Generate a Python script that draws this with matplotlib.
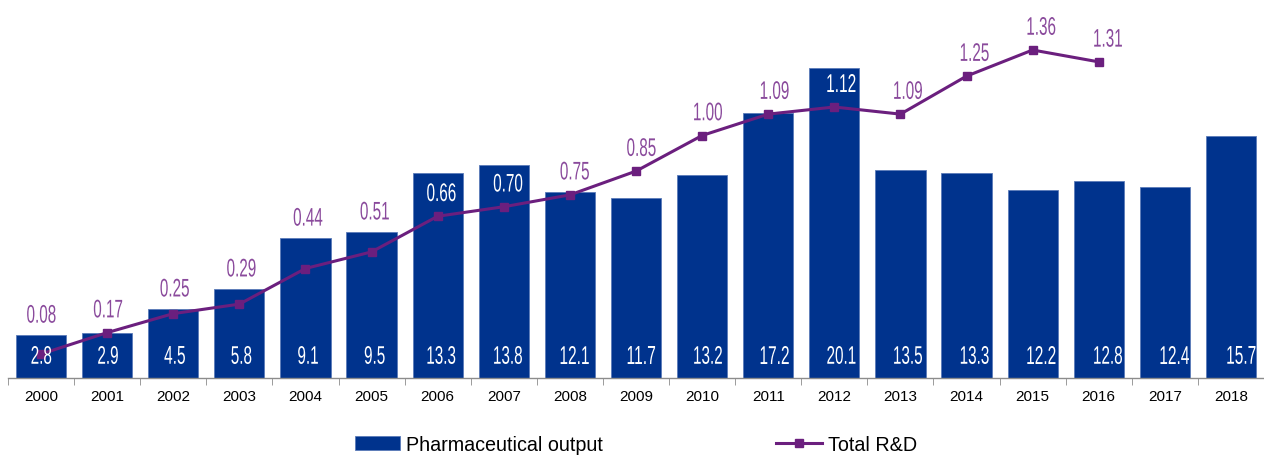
import numpy as np
import matplotlib
matplotlib.use("Agg")
import matplotlib.pyplot as plt
from matplotlib.font_manager import FontProperties
from matplotlib.textpath import TextPath
from matplotlib.patches import PathPatch
from matplotlib.transforms import Affine2D

years = ["2000", "2001", "2002", "2003", "2004", "2005", "2006", "2007", "2008", "2009",
         "2010", "2011", "2012", "2013", "2014", "2015", "2016", "2017", "2018"]
pharma_output = [2.8, 2.9, 4.5, 5.8, 9.1, 9.5, 13.3, 13.8, 12.1, 11.7,
                 13.2, 17.2, 20.1, 13.5, 13.3, 12.2, 12.8, 12.4, 15.7]
total_rd = [0.08, 0.17, 0.25, 0.29, 0.44, 0.51, 0.66, 0.70, 0.75, 0.85,
            1.00, 1.09, 1.12, 1.09, 1.25, 1.36, 1.31]
rd_labels_inside = ["2006", "2007", "2012"]

bar_blue = "#00338D"
line_purple = "#6B1F7E"
label_purple = "#8A4A9C"

plt.rcParams["font.family"] = ["Liberation Sans", "DejaVu Sans"]
label_font = FontProperties(family="Liberation Sans")

W, H = 1264, 456
fig = plt.figure(figsize=(W / 100, H / 100), dpi=100)
# plot area: baseline at 379 px from top, starting at x = 8 px
ax = fig.add_axes([8 / W, (H - 379) / H, 1 - 8 / W, 379 / H])
ax2 = ax.twinx()

x = np.arange(len(years))
step_px = 66.67
ax.set_xlim(-0.5, -0.5 + (W - 8) / step_px)
ax.set_ylim(0, 379 / 15.4)
ax2.set_ylim(-5 / 237.5, 374 / 237.5)

ax.bar(x, pharma_output, width=0.76, color=bar_blue, edgecolor="#5A7BB8",
       linewidth=0.6, zorder=2, label="Pharmaceutical output")
xr = np.arange(len(total_rd))
ax2.plot(xr, total_rd, color=line_purple, lw=2.2, marker="s", markersize=5.5,
         zorder=3, label="Total R&D")


def narrow_label(s, px, py, color, digit_h=18, squeeze=0.6):
    # condensed number label drawn as a squeezed text path, centred on (px, py) in pixels
    tp = TextPath((0, 0), s, size=100, prop=label_font)
    ext = tp.get_extents()
    k = digit_h / ext.height
    tr = (Affine2D().translate(-(ext.x0 + ext.x1) / 2, -(ext.y0 + ext.y1) / 2)
          .scale(k * squeeze, k).translate(px, py))
    fig.add_artist(PathPatch(tp, transform=tr, facecolor=color, edgecolor="none", zorder=6))


for i, v in enumerate(pharma_output):
    px, py = ax.transData.transform((i, 0))
    narrow_label(f"{v:.1f}", px, py + 23, "white")

for i, r in enumerate(total_rd):
    px, my = ax2.transData.transform((i, r))
    by = ax.transData.transform((i, pharma_output[i]))[1]
    if years[i] in rd_labels_inside:
        narrow_label(f"{r:.2f}", px, my + 24, "white")
    else:
        narrow_label(f"{r:.2f}", px, max(my + 24, by + 21), label_purple)

for a in (ax, ax2):
    for s in ("top", "right", "left"):
        a.spines[s].set_visible(False)
    a.set_yticks([])
ax2.spines["bottom"].set_visible(False)
ax.spines["bottom"].set_color("#8C8C8C")
ax.spines["bottom"].set_linewidth(1.0)

ax.set_xticks(x)
ax.set_xticklabels(years, fontsize=11)
ax.tick_params(axis="x", which="major", length=0, pad=8)
ax.set_xticks(np.arange(-0.5, len(years), 1.0), minor=True)
ax.tick_params(axis="x", which="minor", length=5, color="#8C8C8C", direction="out")

h1, l1 = ax.get_legend_handles_labels()
h2, l2 = ax2.get_legend_handles_labels()
fig.legend(h1 + h2, l1 + l2, loc="center", bbox_to_anchor=(0.503, 0.024), ncol=2,
           frameon=False, fontsize=14.2, handlelength=2.3, handletextpad=0.3,
           columnspacing=8.8, borderaxespad=0)

fig.savefig("out.png", dpi=100)
